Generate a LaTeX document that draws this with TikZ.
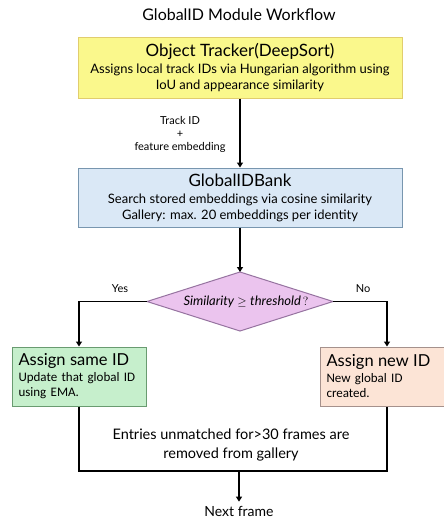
\documentclass[tikz,border=0pt]{standalone}
\usepackage{fontspec}
\setmainfont{Lato}
\newfontfamily\bodyfont{Carlito}
\usetikzlibrary{shapes.geometric,arrows.meta,calc}
\definecolor{yelfill}{RGB}{250,248,140}
\definecolor{yeldraw}{RGB}{225,205,110}
\definecolor{bluefill}{RGB}{218,232,246}
\definecolor{bluedraw}{RGB}{120,150,175}
\definecolor{pinkfill}{RGB}{235,196,238}
\definecolor{pinkdraw}{RGB}{150,115,160}
\definecolor{greenfill}{RGB}{198,239,204}
\definecolor{greendraw}{RGB}{105,155,112}
\definecolor{orgfill}{RGB}{252,228,214}
\definecolor{orgdraw}{RGB}{165,145,140}
\tikzset{
  x=1pt, y=-1pt,
  wide/.style={draw=#1, line width=1pt, minimum width=324pt, minimum height=60pt, inner sep=0pt, align=center, font=\fontsize{13}{16}\selectfont},
  side/.style={draw=#1, line width=1pt, minimum width=134pt, minimum height=59pt, inner sep=0pt, text width=121pt, align=left, font=\bodyfont\fontsize{13}{15}\selectfont},
  flow/.style={line width=1.4pt, draw=black},
  arr/.style={flow, -{Triangle[length=5pt,width=6pt]}},
  lbl/.style={font=\fontsize{11}{13}\selectfont, align=center, inner sep=0pt}
}
\begin{document}
\begin{tikzpicture}
\clip (0,0) rectangle (444,519);
\fill[white] (0,0) rectangle (444,519);
\node[inner sep=0pt, font=\fontsize{16}{18}\selectfont] (title) at (239,15) {GlobalID Module Workflow};
\node[wide=yeldraw, fill=yelfill] (tracker) at (240,68)
  {{\fontsize{17}{18}\selectfont Object Tracker(DeepSort)}\\[1pt]
   Assigns local track IDs via Hungarian algorithm using\\
   IoU and appearance similarity};
\node[wide=bluedraw, fill=bluefill, minimum height=59pt] (bank) at (240,197.5)
  {{\fontsize{17}{18}\selectfont GlobalIDBank}\\[1pt]
   Search stored embeddings via cosine similarity\\
   Gallery: max. 20 embeddings per identity};
% decision diamond
\coordinate (dn) at (240,272);
\coordinate (ds) at (240,331);
\coordinate (dw) at (147,301.5);
\coordinate (de) at (333,301.5);
\filldraw[draw=pinkdraw, fill=pinkfill, line width=1pt, line join=miter] (dn) -- (de) -- (ds) -- (dw) -- cycle;
\node[inner sep=0pt, font=\fontsize{13}{15}\selectfont] (dec) at (246,301.5)
  {$\mathit{Similarity} \geq \mathit{threshold}\,?$};
\node[side=greendraw, fill=greenfill] (same) at (79,376.5)
  {{\rmfamily\fontsize{16.5}{17}\selectfont Assign same ID}\\[1pt]
   Update that global ID\\ using EMA.};
\node[side=orgdraw, fill=orgfill] (new) at (387,376.5)
  {{\rmfamily\fontsize{16.5}{17}\selectfont Assign new ID}\\[1pt]
   New global ID\\ created.};
\node[lbl] (tlabel) at (180,134) {Track ID\\+\\feature embedding};
\node[lbl] (yes) at (120,289) {Yes};
\node[lbl] (no) at (363,289) {No};
\node[inner sep=0pt, align=center, font=\fontsize{14.5}{19}\selectfont] (entries) at (231,445)
  {Entries unmatched for>30 frames are\\removed from gallery};
\node[inner sep=0pt, font=\fontsize{14}{16}\selectfont] (next) at (239,511) {Next frame};
\coordinate (join) at (239,471);
\draw[arr] (tracker.south) -- (bank.north);
\draw[arr] (bank.south) -- (dn);
\draw[arr] (dw) -| (same.north);
\draw[arr] (de) -| (new.north);
\draw[flow] (same.south) |- (join) -| (new.south);
\draw[arr] (join) -- ([yshift=4pt]next.north);
\end{tikzpicture}
\end{document}
